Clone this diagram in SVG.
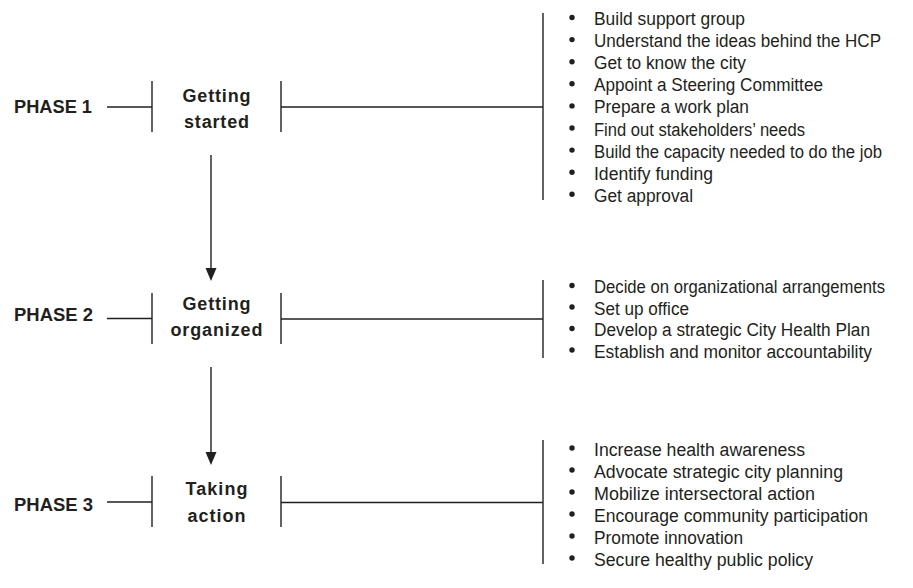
<svg xmlns="http://www.w3.org/2000/svg" width="913" height="588" viewBox="0 0 913 588">
  <style>
    .ln { stroke: #231f20; stroke-width: 1.4; fill: none; }
    .lab { font-family: "Liberation Sans", Arial, sans-serif; font-weight: bold; font-size: 18.5px; fill: #231f20; }
    .stage { font-family: "Liberation Sans", Arial, sans-serif; font-weight: bold; font-size: 18px; fill: #231f20; text-anchor: middle; }
    .it { font-family: "Liberation Sans", Arial, sans-serif; font-size: 18px; fill: #231f20; }
    .dot { fill: #231f20; }
    .ah { fill: #231f20; }
  </style>
  <rect width="913" height="588" fill="#ffffff"/>

  <g id="phase1-label"><text class="lab" x="14" y="113" textLength="78" lengthAdjust="spacingAndGlyphs">PHASE 1</text></g>
  <g id="phase2-label"><text class="lab" x="14" y="321" textLength="79" lengthAdjust="spacingAndGlyphs">PHASE 2</text></g>
  <g id="phase3-label"><text class="lab" x="14" y="511" textLength="79" lengthAdjust="spacingAndGlyphs">PHASE 3</text></g>

  <g id="stage1">
    <line class="ln" x1="152" y1="81" x2="152" y2="132"/>
    <line class="ln" x1="281" y1="81" x2="281" y2="132"/>
    <text class="stage" x="216.5" y="102" textLength="68" lengthAdjust="spacing">Getting</text>
    <text class="stage" x="216.5" y="128" textLength="65" lengthAdjust="spacing">started</text>
  </g>
  <g id="stage2">
    <line class="ln" x1="152" y1="293" x2="152" y2="344"/>
    <line class="ln" x1="281" y1="293" x2="281" y2="344"/>
    <text class="stage" x="216.5" y="310" textLength="68" lengthAdjust="spacing">Getting</text>
    <text class="stage" x="216.5" y="336" textLength="92" lengthAdjust="spacing">organized</text>
  </g>
  <g id="stage3">
    <line class="ln" x1="152" y1="476" x2="152" y2="527"/>
    <line class="ln" x1="281" y1="476" x2="281" y2="527"/>
    <text class="stage" x="216.5" y="495" textLength="62" lengthAdjust="spacing">Taking</text>
    <text class="stage" x="216.5" y="522" textLength="58" lengthAdjust="spacing">action</text>
  </g>

  <g id="list1">
    <line class="ln" x1="543" y1="13" x2="543" y2="200"/>
    <circle class="dot" cx="572" cy="17.5" r="2.7"/><text class="it" x="594" y="25" textLength="151" lengthAdjust="spacingAndGlyphs">Build support group</text>
    <circle class="dot" cx="572" cy="39.6" r="2.7"/><text class="it" x="594" y="47.1" textLength="287" lengthAdjust="spacingAndGlyphs">Understand the ideas behind the HCP</text>
    <circle class="dot" cx="572" cy="61.7" r="2.7"/><text class="it" x="594" y="69.2" textLength="152" lengthAdjust="spacingAndGlyphs">Get to know the city</text>
    <circle class="dot" cx="572" cy="83.8" r="2.7"/><text class="it" x="594" y="91.3" textLength="229" lengthAdjust="spacingAndGlyphs">Appoint a Steering Committee</text>
    <circle class="dot" cx="572" cy="105.9" r="2.7"/><text class="it" x="594" y="113.4" textLength="155" lengthAdjust="spacingAndGlyphs">Prepare a work plan</text>
    <circle class="dot" cx="572" cy="128" r="2.7"/><text class="it" x="594" y="135.5" textLength="211" lengthAdjust="spacingAndGlyphs">Find out stakeholders’ needs</text>
    <circle class="dot" cx="572" cy="150.1" r="2.7"/><text class="it" x="594" y="157.6" textLength="288" lengthAdjust="spacingAndGlyphs">Build the capacity needed to do the job</text>
    <circle class="dot" cx="572" cy="172.2" r="2.7"/><text class="it" x="594" y="179.7" textLength="119" lengthAdjust="spacingAndGlyphs">Identify funding</text>
    <circle class="dot" cx="572" cy="194.3" r="2.7"/><text class="it" x="594" y="201.8" textLength="99" lengthAdjust="spacingAndGlyphs">Get approval</text>
  </g>

  <g id="list2">
    <line class="ln" x1="543" y1="280" x2="543" y2="358"/>
    <circle class="dot" cx="572" cy="285.5" r="2.7"/><text class="it" x="594" y="293" textLength="291" lengthAdjust="spacingAndGlyphs">Decide on organizational arrangements</text>
    <circle class="dot" cx="572" cy="307" r="2.7"/><text class="it" x="594" y="314.5" textLength="95" lengthAdjust="spacingAndGlyphs">Set up office</text>
    <circle class="dot" cx="572" cy="328.5" r="2.7"/><text class="it" x="594" y="336" textLength="276" lengthAdjust="spacingAndGlyphs">Develop a strategic City Health Plan</text>
    <circle class="dot" cx="572" cy="350" r="2.7"/><text class="it" x="594" y="357.5" textLength="278" lengthAdjust="spacingAndGlyphs">Establish and monitor accountability</text>
  </g>

  <g id="list3">
    <line class="ln" x1="543" y1="440" x2="543" y2="564"/>
    <circle class="dot" cx="572" cy="448" r="2.7"/><text class="it" x="594" y="455.5" textLength="211" lengthAdjust="spacingAndGlyphs">Increase health awareness</text>
    <circle class="dot" cx="572" cy="470" r="2.7"/><text class="it" x="594" y="477.5" textLength="249" lengthAdjust="spacingAndGlyphs">Advocate strategic city planning</text>
    <circle class="dot" cx="572" cy="492" r="2.7"/><text class="it" x="594" y="499.5" textLength="221" lengthAdjust="spacingAndGlyphs">Mobilize intersectoral action</text>
    <circle class="dot" cx="572" cy="514" r="2.7"/><text class="it" x="594" y="521.5" textLength="274" lengthAdjust="spacingAndGlyphs">Encourage community participation</text>
    <circle class="dot" cx="572" cy="536" r="2.7"/><text class="it" x="594" y="543.5" textLength="149" lengthAdjust="spacingAndGlyphs">Promote innovation</text>
    <circle class="dot" cx="572" cy="558" r="2.7"/><text class="it" x="594" y="565.5" textLength="219" lengthAdjust="spacingAndGlyphs">Secure healthy public policy</text>
  </g>

  <g id="connectors">
    <line class="ln" x1="107" y1="107" x2="152" y2="107"/>
    <line class="ln" x1="281" y1="107" x2="543" y2="107"/>
    <line class="ln" x1="107" y1="318.5" x2="152" y2="318.5"/>
    <line class="ln" x1="281" y1="319" x2="543" y2="319"/>
    <line class="ln" x1="107" y1="502" x2="152" y2="502"/>
    <line class="ln" x1="281" y1="502.5" x2="543" y2="502.5"/>
    <line class="ln" x1="211" y1="155" x2="211" y2="270"/>
    <polygon class="ah" points="205.5,268 216.5,268 211,281"/>
    <line class="ln" x1="211" y1="367" x2="211" y2="454"/>
    <polygon class="ah" points="205.5,452 216.5,452 211,465"/>
  </g>
</svg>
